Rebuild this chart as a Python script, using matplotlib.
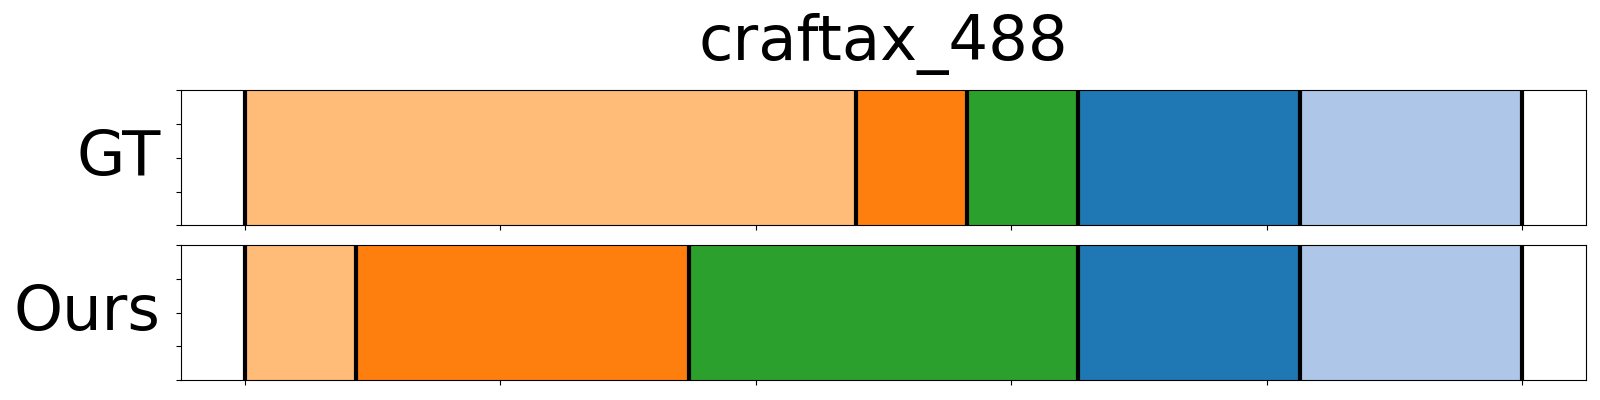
import numpy as np
import matplotlib
matplotlib.use('Agg')
from matplotlib import pyplot as plt

title = 'craftax_488'
row_names = ['GT', 'Ours']
total_frames = 230
gt_bounds = [0, 110, 130, 150, 190, 230]    # segment boundaries (frames)
ours_bounds = [0, 20, 80, 150, 190, 230]
seg_colors = ['#ffbb78', '#ff7f0e', '#2ca02c', '#1f77b4', '#aec7e8']

fig = plt.figure(figsize=(16, 4), dpi=100)
ax1 = fig.add_axes([0.1133, 0.4368, 0.8778, 0.3372])
ax2 = fig.add_axes([0.1133, 0.05, 0.8778, 0.3368])

for ax, bounds, name in zip([ax1, ax2], [gt_bounds, ours_bounds], row_names):
    b = np.array(bounds) / total_frames
    for i in range(len(b) - 1):
        ax.axvspan(b[i], b[i+1], color=seg_colors[i], lw=0)
    for x in b:
        ax.axvline(x, color='k', lw=3)
    ax.set_xlim(-0.05, 1.05)
    ax.set_ylim(0, 1)
    ax.set_xticks(np.linspace(0, 1, 6))
    ax.set_xticklabels([])
    ax.set_yticks(np.linspace(0, 1, 5))
    ax.set_yticklabels([])
    ax.set_ylabel(name, rotation=0, fontsize=45, ha='right', va='center', labelpad=8)

ax1.set_title(title, fontsize=45, pad=22)

plt.savefig('out.png')
